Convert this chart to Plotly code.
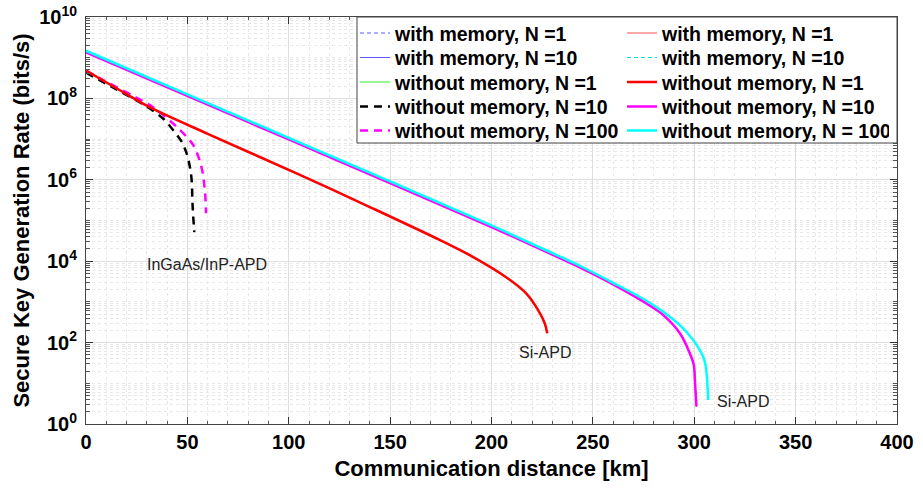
import plotly.graph_objects as go

# ---------------- data ----------------
# Si-APD, without memory, N = 100 (cyan) and with memory, N = 10 (cyan dashed)
km_cyan = [0, 50, 100, 150, 200, 230, 245, 260, 276.4, 284.6, 292.9, 299.5, 304.4, 305.7, 306.9]
rate_cyan = [1.48e9, 1.26e8, 1.07e7, 9.1e5, 7.6e4, 1.58e4, 7.1e3, 2.95e3, 1.07e3, 575, 269, 115, 45, 26, 3.9]

# Si-APD, without memory, N = 10 (magenta) and with memory curves under it (blue)
km_mag = [0, 50, 100, 150, 200, 230, 245, 260, 276.4, 284.6, 292.9, 297.8, 299.8, 300.3, 301.1]
rate_mag = [1.35e9, 1.15e8, 9.8e6, 8.3e5, 6.9e4, 1.45e4, 6.5e3, 2.7e3, 912, 479, 170, 55, 28, 12, 2.7]

# Si-APD, without memory, N = 1 (red)
km_red = [0, 15, 31.6, 60, 105.5, 140, 174.6, 191, 207.4, 217.3, 223, 226.3, 227.5]
rate_red = [4.8e8, 1.78e8, 6.0e7, 1.35e7, 1.32e6, 2.14e5, 3.3e4, 1.26e4, 3.98e3, 1.58e3, 630, 295, 170]

# InGaAs/InP-APD, without memory, N = 10 (black dashed)
km_blk = [0, 15, 30, 38, 43, 47, 49.6, 51.3, 52.1, 52.6, 53.4]
rate_blk = [4.3e8, 1.66e8, 6.3e7, 3.2e7, 1.66e7, 8.9e6, 4.5e6, 2.0e6, 1.0e6, 2.2e5, 5.2e4]

# InGaAs/InP-APD, without memory, N = 100 (magenta dashed)
km_mdash = [0, 6.9, 23.3, 33.2, 44.7, 52.9, 57, 58.7, 59.2]
rate_mdash = [4.8e8, 3.1e8, 1.15e8, 6.0e7, 2.0e7, 7.1e6, 2.0e6, 5.0e5, 1.5e5]

x_ticks = [0, 50, 100, 150, 200, 250, 300, 350, 400]
y_label_exponents = [0, 2, 4, 6, 8, 10]

# ---------------- figure ----------------
FONT = "Liberation Sans"
fig = go.Figure()

traces = [
    # name, x, y, color, width, dash, legend
    ("with memory, N =1", km_mag, rate_mag, "#5a5aff", 1.2, "4px,3px", "legend"),
    ("with memory, N =10", km_mag, rate_mag, "#5a5aff", 1.2, "solid", "legend2"),
    ("without memory, N =1", km_red, rate_red, "#33ee33", 1.2, "solid", "legend3"),
    ("without memory, N =10", km_blk, rate_blk, "#000000", 2.5, "8px,6px", "legend4"),
    ("without memory, N =100", km_mdash, rate_mdash, "#ff00ff", 2.5, "8px,6px", "legend5"),
    ("with memory, N =1", km_red, rate_red, "#ff5050", 1.2, "solid", "legend"),
    ("with memory, N =10", km_cyan, rate_cyan, "#00e0e0", 1.2, "4px,3px", "legend2"),
    ("without memory, N =1", km_red, rate_red, "#ff0000", 2.5, "solid", "legend3"),
    ("without memory, N =10", km_mag, rate_mag, "#ff00ff", 2.5, "solid", "legend4"),
    ("without memory, N = 100", km_cyan, rate_cyan, "#00ffff", 2.5, "solid", "legend5"),
]
for name, x, y, color, w, dash, lg in traces:
    fig.add_trace(go.Scatter(x=x, y=y, mode="lines", name=name,
                             line=dict(color=color, width=w, dash=dash,
                                       shape="spline", smoothing=0.9),
                             legend=lg))

# plot area geometry (px) for legend placement
W, H = 923, 493
ml, mr, mt, mb = 86, 26, 17, 69
pw, ph = W - ml - mr, H - mt - mb
row_centers = [33, 57.5, 82, 106.5, 130.5]
leg_font = dict(family=FONT, size=19.5, color="black", weight="bold")
item_h = 19.5 * 1.3 + 3
legends = {}
for i, c in enumerate(row_centers):
    top = c - item_h / 2 - 5
    key = "legend" if i == 0 else f"legend{i + 1}"
    legends[key] = dict(
        x=(355 - ml) / pw, xanchor="left",
        y=1 - (top - mt) / ph, yanchor="top",
        orientation="h", entrywidth=222, entrywidthmode="pixels",
        bgcolor="rgba(0,0,0,0)", borderwidth=0, font=leg_font,
        itemwidth=30,
    )

tick_font = dict(family=FONT, size=20, color="black", weight="bold")
grid_major = "#dedede"
grid_minor = "#e8e8e8"

y_tickvals = [10 ** e for e in y_label_exponents]
y_ticktext = [f"10<sup>{e}</sup>" for e in y_label_exponents]
y_minor = [m * 10 ** e for e in range(0, 10) for m in range(2, 11) if not (m == 10 and (e + 1) % 2 == 0)]

fig.update_layout(
    width=W, height=H,
    margin=dict(l=ml, r=mr, t=mt, b=mb, autoexpand=False),
    paper_bgcolor="white", plot_bgcolor="white",
    showlegend=True,
    **legends,
    xaxis=dict(
        range=[0, 400], tickvals=x_ticks, ticktext=[str(v) for v in x_ticks],
        ticks="inside", ticklen=7, tickcolor="#333", tickwidth=1,
        showline=True, linecolor="#444", linewidth=1, mirror="ticks",
        showgrid=True, gridcolor=grid_major, gridwidth=1,
        minor=dict(dtick=10, showgrid=True, gridcolor=grid_minor, griddash="dot",
                   ticks="inside", ticklen=3, tickcolor="#555"),
        tickfont=tick_font, zeroline=False,
        title=dict(text="Communication distance [km]",
                   font=dict(family=FONT, size=22, color="black", weight="bold"),
                   standoff=8),
        automargin=False,
    ),
    yaxis=dict(
        type="log", range=[0, 10],
        tickvals=y_tickvals, ticktext=y_ticktext,
        ticks="inside", ticklen=7, tickcolor="#333", tickwidth=1,
        showline=True, linecolor="#444", linewidth=1, mirror="ticks",
        showgrid=True, gridcolor=grid_major, gridwidth=1,
        minor=dict(tickvals=y_minor, showgrid=True, gridcolor=grid_minor, griddash="dot",
                   ticks="inside", ticklen=4, tickcolor="#555"),
        tickfont=tick_font, zeroline=False, ticklabelstandoff=4,
        title=dict(text="Secure Key Generation Rate (bits/s)",
                   font=dict(family=FONT, size=22, color="black", weight="bold"),
                   standoff=3),
        automargin=False,
    ),
    shapes=[dict(type="rect", xref="paper", yref="paper",
                 x0=(357 - ml) / pw, x1=1, y0=1 - (143 - mt) / ph, y1=1,
                 fillcolor="white", line=dict(color="#444", width=1), layer="above")],
    annotations=[
        dict(x=59.7, y=3.91, text="InGaAs/InP-APD", showarrow=False,
             font=dict(family=FONT, size=16, color="#222")),
        dict(x=226.3, y=1.75, text="Si-APD", showarrow=False,
             font=dict(family=FONT, size=16, color="#222")),
        dict(x=324, y=0.55, text="Si-APD", showarrow=False,
             font=dict(family=FONT, size=16, color="#222")),
    ],
)

fig.write_html("out.html", config={"displayModeBar": False},
               post_script="document.body.style.margin='0px';")
